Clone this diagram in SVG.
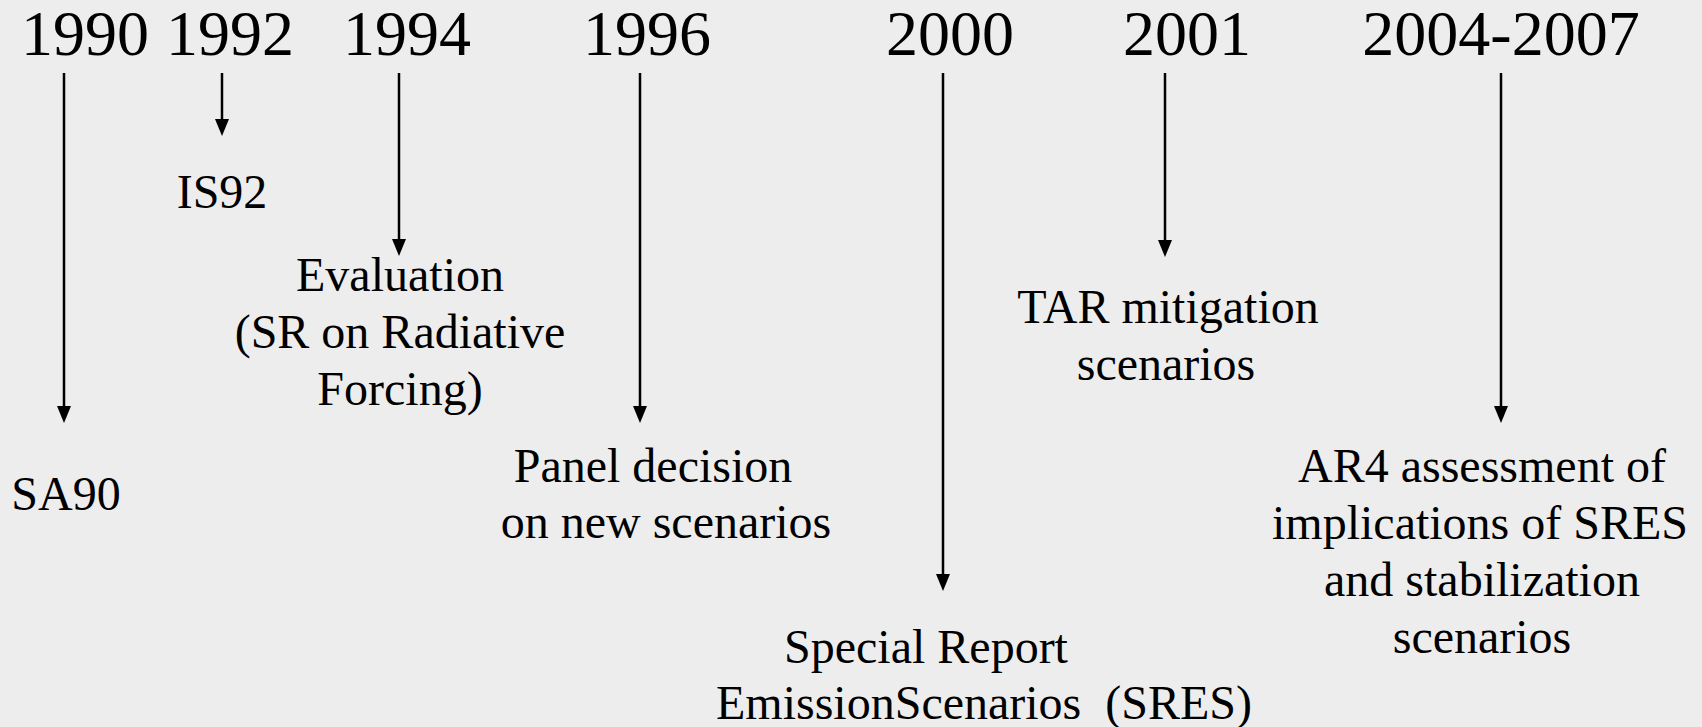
<svg xmlns="http://www.w3.org/2000/svg" width="1702" height="727" viewBox="0 0 1702 727">
<rect width="1702" height="727" fill="#ededed"/>
<g id="years" font-family="Liberation Serif, Times New Roman, serif" font-size="64" text-anchor="middle" fill="#000">
<text x="85" y="55" font-family="Liberation Serif, serif">1990</text>
<text x="230" y="55" font-family="Liberation Serif, serif">1992</text>
<text x="407" y="55" font-family="Liberation Serif, serif">1994</text>
<text x="647" y="55" font-family="Liberation Serif, serif">1996</text>
<text x="950" y="55" font-family="Liberation Serif, serif">2000</text>
<text x="1187" y="55" font-family="Liberation Serif, serif">2001</text>
<text x="1501" y="55" font-family="Liberation Serif, serif">2004-2007</text>
</g>
<g id="connectors" stroke="#000" stroke-width="2.5">
<path d="M64,73 V410"/>
<path d="M57,406 L71,406 L64,423 Z" fill="#000" stroke="none"/>
<path d="M222,73 V123"/>
<path d="M215,119 L229,119 L222,136 Z" fill="#000" stroke="none"/>
<path d="M399,73 V243"/>
<path d="M392,239 L406,239 L399,256 Z" fill="#000" stroke="none"/>
<path d="M640,73 V410"/>
<path d="M633,406 L647,406 L640,423 Z" fill="#000" stroke="none"/>
<path d="M943,73 V578"/>
<path d="M936,574 L950,574 L943,591 Z" fill="#000" stroke="none"/>
<path d="M1165,73 V244"/>
<path d="M1158,240 L1172,240 L1165,257 Z" fill="#000" stroke="none"/>
<path d="M1501,73 V410"/>
<path d="M1494,406 L1508,406 L1501,423 Z" fill="#000" stroke="none"/>
</g>
<g id="sa90"><text x="66" y="510" font-family="Liberation Serif, serif" font-size="48" text-anchor="middle">SA90</text></g>
<g id="is92"><text x="222" y="208" font-family="Liberation Serif, serif" font-size="48" text-anchor="middle">IS92</text></g>
<g id="evaluation">
<text x="400" y="291" font-family="Liberation Serif, serif" font-size="48" text-anchor="middle">Evaluation</text>
<text x="400" y="348" font-family="Liberation Serif, serif" font-size="48" text-anchor="middle">(SR on Radiative</text>
<text x="400" y="405" font-family="Liberation Serif, serif" font-size="48" text-anchor="middle">Forcing)</text>
</g>
<g id="panel">
<text x="653" y="482" font-family="Liberation Serif, serif" font-size="48" text-anchor="middle">Panel decision</text>
<text x="666" y="538" font-family="Liberation Serif, serif" font-size="48" text-anchor="middle">on new scenarios</text>
</g>
<g id="sres">
<text x="926" y="663" font-family="Liberation Serif, serif" font-size="48" text-anchor="middle">Special Report</text>
<text x="984" y="719" font-family="Liberation Serif, serif" font-size="48" text-anchor="middle" xml:space="preserve">EmissionScenarios  (SRES)</text>
</g>
<g id="tar">
<text x="1168" y="323" font-family="Liberation Serif, serif" font-size="48" text-anchor="middle">TAR mitigation</text>
<text x="1166" y="380" font-family="Liberation Serif, serif" font-size="48" text-anchor="middle">scenarios</text>
</g>
<g id="ar4">
<text x="1482" y="482" font-family="Liberation Serif, serif" font-size="48" text-anchor="middle">AR4 assessment of</text>
<text x="1480" y="539" font-family="Liberation Serif, serif" font-size="48" text-anchor="middle">implications of SRES</text>
<text x="1482" y="596" font-family="Liberation Serif, serif" font-size="48" text-anchor="middle">and stabilization</text>
<text x="1482" y="653" font-family="Liberation Serif, serif" font-size="48" text-anchor="middle">scenarios</text>
</g>
</svg>
